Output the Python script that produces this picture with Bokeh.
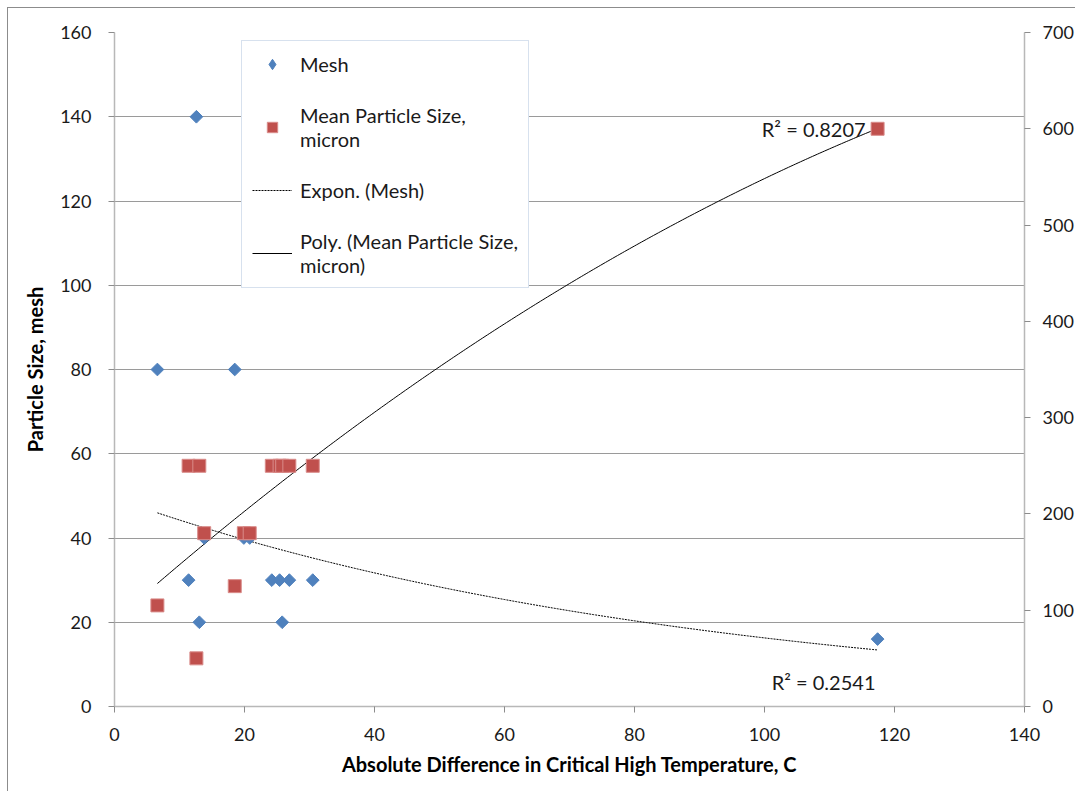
import numpy as np
from bokeh.plotting import figure
from bokeh.models import Range1d, LinearAxis, Legend, LegendItem, Label, FixedTicker
from bokeh.embed import file_html
from bokeh.resources import INLINE

# ---- data ----
temp_diff = [6.6, 11.4, 12.6, 13.05, 13.8, 18.5, 19.9, 20.8, 24.2, 25.4, 25.8, 26.9, 30.5, 117.4]
mesh = [80, 30, 140, 20, 40, 80, 40, 40, 30, 30, 20, 30, 30, 16]
micron = [105, 250, 50, 250, 180, 125, 180, 180, 250, 250, 250, 250, 250, 600]
x_ticks = [0, 20, 40, 60, 80, 100, 120, 140]
y_ticks = [0, 20, 40, 60, 80, 100, 120, 140, 160]
y2_ticks = [0, 100, 200, 300, 400, 500, 600, 700]
r2_labels = ["R² = 0.8207", "R² = 0.2541"]
legend_labels = ["Mesh", "Mean Particle Size,\nmicron", "Expon. (Mesh)",
                 "Poly. (Mean Particle Size,\nmicron)"]

BLUE = "#4f81bd"
RED = "#c0504d"
TXT_FONT = "Lato"

# trendlines (fitted like Excel)
x = np.array(temp_diff, dtype=float)
b, lna = np.polyfit(x, np.log(np.array(mesh, dtype=float)), 1)
xs = np.linspace(x.min(), x.max(), 300)
exp_fit = np.exp(lna + b * xs)
coef = np.polyfit(x, np.array(micron, dtype=float), 2)
poly_fit = np.polyval(coef, xs)

p = figure(width=1068, height=784, output_backend="svg", toolbar_location=None,
           x_range=Range1d(0, 140), y_range=Range1d(0, 160),
           min_border_left=106, min_border_top=24, min_border_bottom=86,
           min_border_right=50)
p.extra_y_ranges = {"right": Range1d(0, 700)}
p.outline_line_color = None
p.background_fill_color = "white"
p.border_fill_color = "white"
p.styles = {"margin-left": "7px", "margin-top": "7px",
            "border-left": "1px solid #8c8c8c", "border-top": "1px solid #8c8c8c"}

p.xgrid.visible = False
p.ygrid.ticker = FixedTicker(ticks=y_ticks)
p.ygrid.grid_line_color = "#9a9a9a"
p.ygrid.grid_line_width = 1

def style_axis(ax, ticks, standoff):
    ax.ticker = FixedTicker(ticks=ticks)
    ax.axis_line_color = "#b8b8b8"
    ax.axis_line_width = 1.5
    ax.major_tick_line_color = "#8c8c8c"
    ax.major_tick_out = 6
    ax.major_tick_in = 0
    ax.minor_tick_line_color = None
    ax.major_label_text_font = TXT_FONT
    ax.major_label_text_font_size = "18px"
    ax.major_label_text_color = "#1a1a1a"
    ax.major_label_standoff = standoff
    ax.axis_label_text_font = TXT_FONT
    ax.axis_label_text_font_style = "bold"
    ax.axis_label_text_font_size = "20px"
    ax.axis_label_text_color = "black"

style_axis(p.xaxis[0], x_ticks, 15)
p.xaxis[0].axis_label = "Absolute Difference in Critical High Temperature, C"
p.xaxis[0].axis_label_standoff = 8
style_axis(p.yaxis[0], y_ticks, 17)
p.yaxis[0].axis_label = "Particle Size, mesh"
p.yaxis[0].axis_label_standoff = 10

right_axis = LinearAxis(y_range_name="right")
style_axis(right_axis, y2_ticks, 12)
p.add_layout(right_axis, "right")

r_exp = p.line(xs, exp_fit, line_color="black", line_width=1, line_dash="2 1")
r_poly = p.line(xs, poly_fit, line_color="black", line_width=1, y_range_name="right")
r_mesh = p.scatter(temp_diff, mesh, marker="square", angle=np.pi / 4, size=9,
                   fill_color=BLUE, line_color=BLUE)
r_mic = p.scatter(temp_diff, micron, marker="square", size=13, fill_color=RED,
                  line_color="#d98c8a", line_width=1, y_range_name="right")
# hidden legend proxy: a diamond swatch for the Mesh key
r_mesh_key = p.scatter(temp_diff, mesh, marker="diamond", size=14, fill_color=BLUE,
                       line_color=BLUE, visible=False)

legend = Legend(items=[LegendItem(label=legend_labels[0], renderers=[r_mesh_key]),
                       LegendItem(label=legend_labels[1], renderers=[r_mic]),
                       LegendItem(label=legend_labels[2], renderers=[r_exp]),
                       LegendItem(label=legend_labels[3], renderers=[r_poly])],
                location=(127, 418))
legend.label_text_font = TXT_FONT
legend.label_text_font_size = "20px"
legend.label_text_color = "#1a1a1a"
legend.glyph_width = 40
legend.glyph_height = 26
legend.label_standoff = 8
legend.padding = 10
legend.spacing = 26
legend.margin = 0
legend.border_line_color = "#b0c4de"
legend.border_line_width = 1.5
legend.background_fill_color = "white"
legend.background_fill_alpha = 1
legend.inactive_fill_alpha = 0
p.add_layout(legend)

p.add_layout(Label(x=x.max(), y=poly_fit[-1], y_range_name="right", x_offset=-12,
                   text=r2_labels[0], text_align="right", text_baseline="middle",
                   text_font=TXT_FONT, text_font_size="20px", text_color="#1a1a1a"))
p.add_layout(Label(x=x.max(), y=exp_fit[-1], x_offset=-54, y_offset=-32,
                   text=r2_labels[1], text_align="center", text_baseline="middle",
                   text_font=TXT_FONT, text_font_size="20px", text_color="#1a1a1a"))

open("out.html", "w").write(file_html(p, INLINE))
